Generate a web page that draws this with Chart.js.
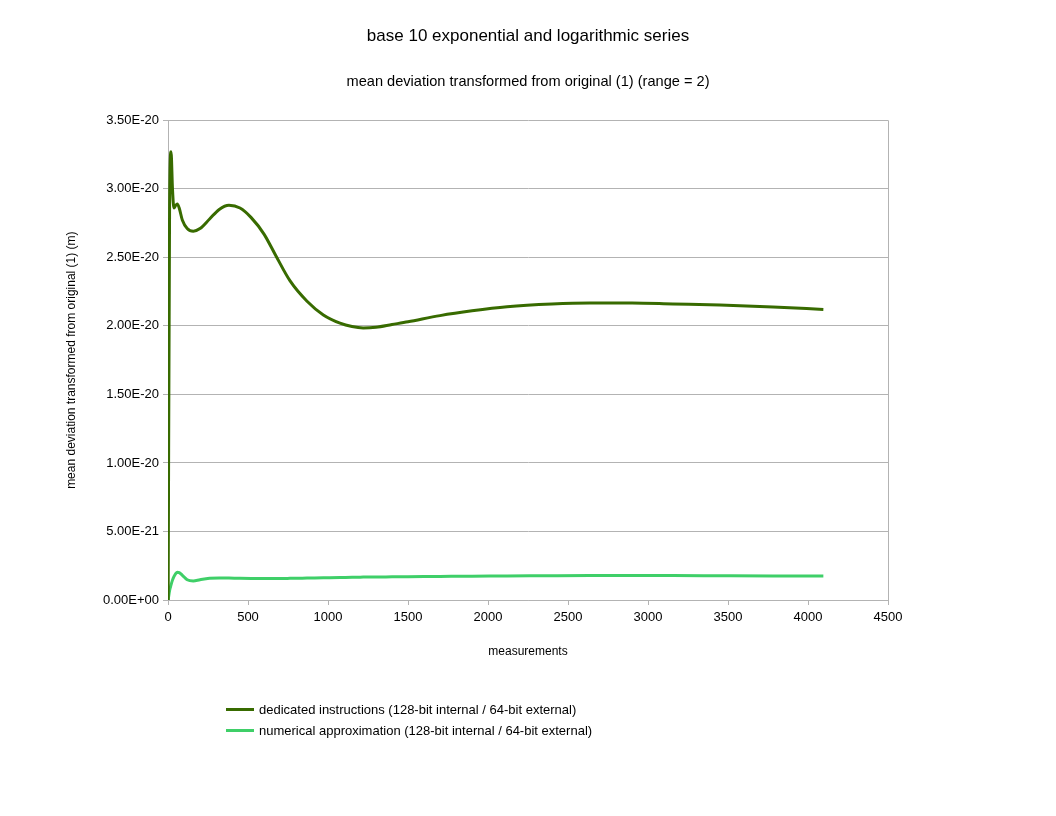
<!DOCTYPE html>
<html>
<head>
<meta charset="utf-8">
<script src="https://cdn.jsdelivr.net/npm/chart.js@4"></script>
<style>
  html, body { margin: 0; padding: 0; background: #fff; }
  #wrap { position: relative; width: 1056px; height: 816px; }
  #legend { position: absolute; left: 226px; top: 699px; font: 13px "Liberation Sans", Arial, sans-serif; color: #000; }
  #legend .row { height: 21px; display: flex; align-items: center; }
  #legend .swatch { width: 28px; height: 3px; margin-right: 5px; }
</style>
</head>
<body>
<div id="wrap">
  <canvas id="chart" width="1056" height="816"></canvas>
  <div id="legend"></div>
</div>
<script>
// measurement index (x)
const measurements = [1, 10, 19, 28, 37, 48, 58, 70, 90, 120, 158, 200, 260, 320, 381, 450, 520, 600, 675, 762, 869, 971, 1075, 1150, 1220, 1300, 1400, 1500, 1700, 1900, 2119, 2400, 2637, 2900, 3156, 3450, 3781, 4096];

// mean deviation (m)
const dedicated = [0, 2.9e-20, 3.27e-20, 3.0e-20, 2.86e-20, 2.88e-20, 2.89e-20, 2.86e-20, 2.77e-20, 2.71e-20, 2.69e-20, 2.71e-20, 2.78e-20, 2.85e-20, 2.88e-20, 2.86e-20, 2.79e-20, 2.67e-20, 2.51e-20, 2.33e-20, 2.18e-20, 2.08e-20, 2.02e-20, 1.995e-20, 1.985e-20, 1.99e-20, 2.01e-20, 2.03e-20, 2.075e-20, 2.11e-20, 2.14e-20, 2.16e-20, 2.167e-20, 2.167e-20, 2.16e-20, 2.152e-20, 2.138e-20, 2.12e-20];
const numerical = [0, 0.07e-20, 0.11e-20, 0.145e-20, 0.17e-20, 0.192e-20, 0.203e-20, 0.2e-20, 0.18e-20, 0.148e-20, 0.139e-20, 0.148e-20, 0.158e-20, 0.161e-20, 0.16e-20, 0.158e-20, 0.157e-20, 0.157e-20, 0.157e-20, 0.158e-20, 0.16e-20, 0.162e-20, 0.164e-20, 0.166e-20, 0.167e-20, 0.168e-20, 0.169e-20, 0.17e-20, 0.172e-20, 0.174e-20, 0.175e-20, 0.177e-20, 0.178e-20, 0.178e-20, 0.178e-20, 0.177e-20, 0.176e-20, 0.175e-20];

const seriesNames = [
  'dedicated instructions (128-bit internal / 64-bit external)',
  'numerical approximation (128-bit internal / 64-bit external)'
];
const seriesColors = ['#386b00', '#3fcf68'];

const xTicks = [0, 500, 1000, 1500, 2000, 2500, 3000, 3500, 4000, 4500];

const font = '"Liberation Sans", Arial, sans-serif';
const grey = '#b3b3b3';

const toPoints = ys => measurements.map((x, i) => ({ x: x, y: ys[i] }));

// right edge of the plot box
const frame = {
  id: 'frame',
  afterDatasetsDraw(chart) {
    const a = chart.chartArea;
    const ctx = chart.ctx;
    ctx.save();
    ctx.strokeStyle = grey;
    ctx.lineWidth = 1;
    ctx.beginPath();
    ctx.moveTo(Math.round(a.right) + 0.5, a.top);
    ctx.lineTo(Math.round(a.right) + 0.5, a.bottom);
    ctx.stroke();
    ctx.restore();
  }
};

const sci = v => {
  const parts = Number(v).toExponential(2).toUpperCase().split('E');
  let exp = parseInt(parts[1], 10);
  const sign = exp < 0 ? '-' : '+';
  exp = Math.abs(exp);
  return parts[0] + 'E' + sign + (exp < 10 ? '0' + exp : exp);
};

const chart = new Chart(document.getElementById('chart'), {
  type: 'line',
  data: {
    datasets: [
      { label: seriesNames[0], data: toPoints(dedicated), borderColor: seriesColors[0], backgroundColor: seriesColors[0], borderWidth: 3, pointRadius: 0, cubicInterpolationMode: 'monotone', yAxisID: 'y' },
      { label: seriesNames[1], data: toPoints(numerical), borderColor: seriesColors[1], backgroundColor: seriesColors[1], borderWidth: 3, pointRadius: 0, cubicInterpolationMode: 'monotone', yAxisID: 'y' }
    ]
  },
  options: {
    responsive: false,
    animation: false,
    layout: { padding: { left: 0, right: 0, top: 0, bottom: 153 } },
    plugins: {
      legend: { display: false },
      tooltip: { enabled: false },
      title: {
        display: true,
        text: 'base 10 exponential and logarithmic series',
        color: '#000',
        font: { family: font, size: 17, weight: 'normal' },
        padding: { top: 26.4, bottom: 26.4 }
      },
      subtitle: {
        display: true,
        text: 'mean deviation transformed from original (1) (range = 2)',
        color: '#000',
        font: { family: font, size: 14.6, weight: 'normal' },
        padding: { top: 0, bottom: 29.6 }
      }
    },
    scales: {
      x: {
        type: 'linear',
        min: 0,
        max: 4500,
        afterBuildTicks: scale => { scale.ticks = xTicks.map(v => ({ value: v })); },
        ticks: { color: '#000', font: { family: font, size: 13 }, padding: 5, maxRotation: 0, callback: v => String(v) },
        grid: { drawOnChartArea: false, drawTicks: true, tickLength: 5, color: grey },
        border: { color: grey },
        title: { display: true, text: 'measurements', color: '#000', font: { family: font, size: 12 }, padding: { top: 14, bottom: 4 } }
      },
      y: {
        position: 'left',
        min: 0,
        max: 3.5e-20,
        afterFit: scale => { scale.width = 168; },
        ticks: { stepSize: 0.5e-20, color: '#000', font: { family: font, size: 13 }, padding: 4, callback: sci },
        grid: { color: grey, tickLength: 5 },
        border: { color: grey },
        title: { display: true, text: 'mean deviation transformed from original (1) (m)', color: '#000', font: { family: font, size: 12 }, padding: { top: 64, bottom: 4 } }
      },
      // empty right margin
      yRight: {
        position: 'right',
        display: true,
        min: 0,
        max: 1,
        afterFit: scale => { scale.width = 168; },
        ticks: { display: false },
        grid: { display: false, drawTicks: false },
        border: { display: false }
      }
    }
  },
  plugins: [frame]
});

const legend = document.getElementById('legend');
chart.data.datasets.forEach(ds => {
  const row = document.createElement('div');
  row.className = 'row';
  const sw = document.createElement('span');
  sw.className = 'swatch';
  sw.style.background = ds.borderColor;
  const label = document.createElement('span');
  label.textContent = ds.label;
  row.appendChild(sw);
  row.appendChild(label);
  legend.appendChild(row);
});
</script>
</body>
</html>
